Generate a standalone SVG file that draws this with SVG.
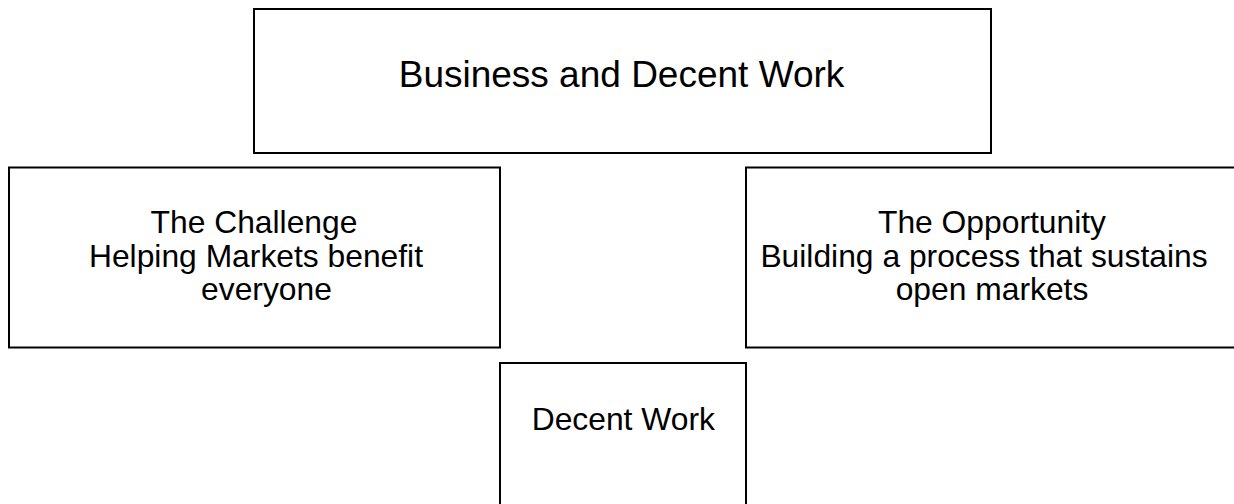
<svg xmlns="http://www.w3.org/2000/svg" width="1234" height="504" viewBox="0 0 1234 504">
  <style>
    .box { fill: #ffffff; stroke: #000000; stroke-width: 2; }
    .lbl { font-family: "Liberation Sans", Arial, sans-serif; fill: #000000; text-anchor: middle; }
    .title { font-size: 37px; }
    .body { font-size: 31.8px; }
  </style>
  <rect width="1234" height="504" fill="#ffffff"/>
  <g id="connectors"></g>
  <g id="node-business">
    <rect class="box" x="254" y="9" width="737" height="144"/>
    <text class="lbl title" x="621.5" y="87">Business and Decent Work</text>
  </g>
  <g id="node-challenge">
    <rect class="box" x="9" y="167.5" width="491" height="180"/>
    <text class="lbl body" x="254" y="233">The Challenge</text>
    <text class="lbl body" x="256" y="266.5">Helping Markets benefit</text>
    <text class="lbl body" x="266.5" y="300">everyone</text>
  </g>
  <g id="node-opportunity">
    <rect class="box" x="746" y="167.5" width="500" height="180"/>
    <text class="lbl body" x="992" y="233">The Opportunity</text>
    <text class="lbl body" x="984" y="266.5">Building a process that sustains</text>
    <text class="lbl body" x="992" y="300">open markets</text>
  </g>
  <g id="node-decent-work">
    <rect class="box" x="500" y="363" width="246" height="160"/>
    <text class="lbl body" x="623.3" y="429.5">Decent Work</text>
  </g>
</svg>
